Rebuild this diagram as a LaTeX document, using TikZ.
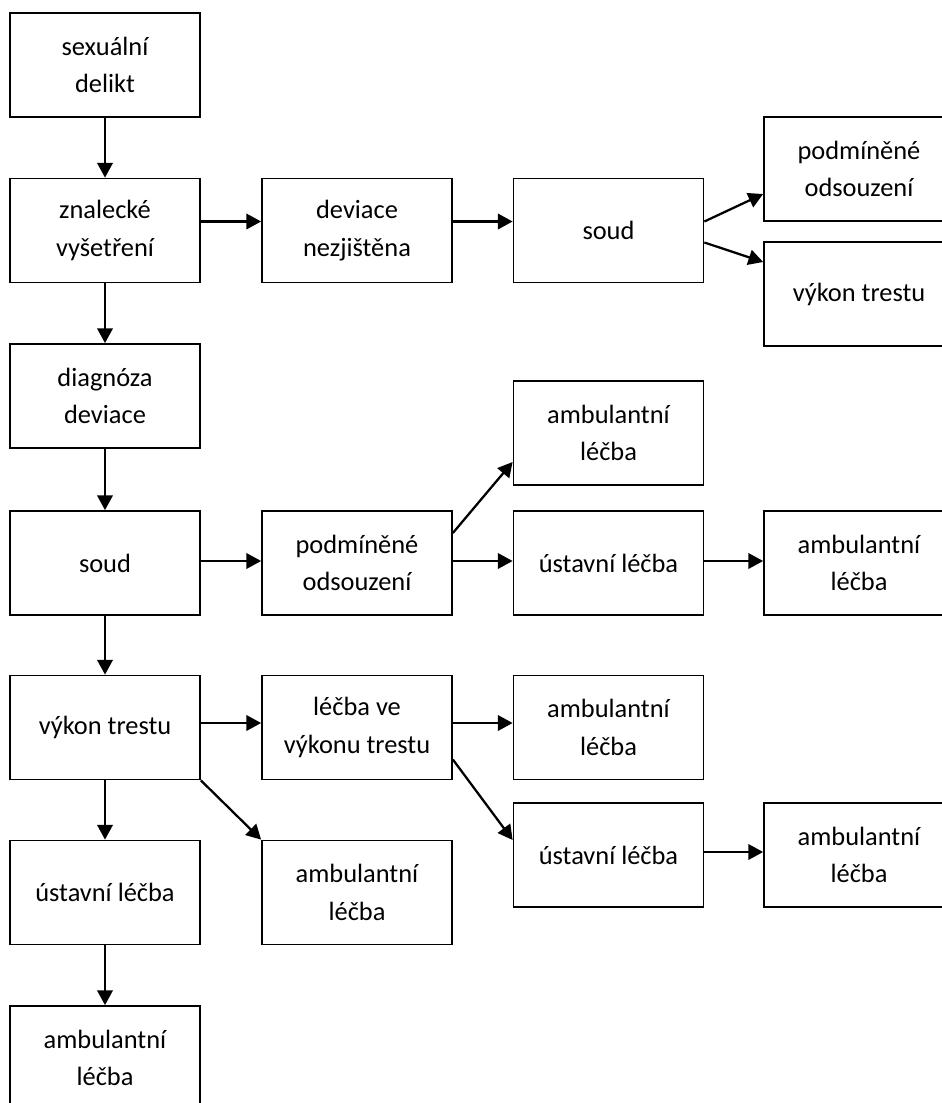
\documentclass[tikz,border=0pt]{standalone}
\usepackage{fontspec}
\setmainfont{Carlito}
\usetikzlibrary{arrows.meta,calc}

\begin{document}
\begin{tikzpicture}[x=0.75pt,y=0.75pt,yscale=-1,xscale=1,
  box/.style={draw, line width=1.3pt, minimum width=142.5pt, minimum height=78pt, inner sep=0pt, align=center, font=\fontsize{19.8}{28}\selectfont},
  arr/.style={line width=1.7pt, -{Triangle[length=11pt,width=11.5pt]}}]
%set diagram size to 942 x 1103
\useasboundingbox (0,0) rectangle (942,1103);
\clip (0,0) rectangle (942,1103);

%Shape: Rectangle column 1
\node [box] (delikt) at (105,65) {sexuální\\delikt};
\node [box] (znalec) at (105,230.5) {znalecké\\vyšetření};
\node [box] (diag) at (105,396) {diagnóza\\deviace};
\node [box] (soud2) at (105,563) {soud};
\node [box] (vykon2) at (105,727.5) {výkon trestu};
\node [box] (ustav3) at (105,892.5) {ústavní léčba};
\node [box] (amb6) at (105,1058) {ambulantní\\léčba};

%Shape: Rectangle column 2
\node [box] (devnez) at (357,230.5) {deviace\\nezjištěna};
\node [box] (podm2) at (357,563) {podmíněné\\odsouzení};
\node [box] (lecba) at (357,727.5) {léčba ve\\výkonu trestu};
\node [box] (amb5) at (357,892.5) {ambulantní\\léčba};

%Shape: Rectangle column 3
\node [box] (soud1) at (608.5,230.5) {soud};
\node [box] (amb1) at (608.5,433) {ambulantní\\léčba};
\node [box] (ustav1) at (608.5,563) {ústavní léčba};
\node [box] (amb3) at (608.5,727.5) {ambulantní\\léčba};
\node [box] (ustav2) at (608.5,855) {ústavní léčba};

%Shape: Rectangle column 4
\node [box] (podm1) at (859,169) {podmíněné\\odsouzení};
\node [box] (vykon1) at (859,294) {výkon trestu};
\node [box] (amb2) at (859,563) {ambulantní\\léčba};
\node [box] (amb4) at (859,855) {ambulantní\\léčba};

%Straight Lines down the left
\draw [arr] (delikt) -- (znalec);
\draw [arr] (znalec) -- (diag);
\draw [arr] (diag) -- (soud2);
\draw [arr] (soud2) -- (vykon2);
\draw [arr] (vykon2) -- (ustav3);
\draw [arr] (ustav3) -- (amb6);

%Straight Lines row of znalecké vyšetření
\draw [arr] ($(znalec.east)+(0,-9)$) -- ($(devnez.west)+(0,-9)$);
\draw [arr] ($(devnez.east)+(0,-9)$) -- ($(soud1.west)+(0,-9)$);
\draw [arr] ($(soud1.east)+(0,-9)$) -- ($(podm1.west)+(0,25)$);
\draw [arr] ($(soud1.east)+(0,12)$) -- ($(vykon1.west)+(0,-32)$);

%Straight Lines row of soud
\draw [arr] ($(soud2.east)+(0,-2)$) -- ($(podm2.west)+(0,-2)$);
\draw [arr] ($(podm2.east)+(0,-30)$) -- ($(amb1.west)+(0,29)$);
\draw [arr] ($(podm2.east)+(0,-2)$) -- ($(ustav1.west)+(0,-2)$);
\draw [arr] ($(ustav1.east)+(0,-2)$) -- ($(amb2.west)+(0,-2)$);

%Straight Lines row of výkon trestu
\draw [arr] ($(vykon2.east)+(0,-4.5)$) -- ($(lecba.west)+(0,-4.5)$);
\draw [arr] ($(lecba.east)+(0,-4.5)$) -- ($(amb3.west)+(0,-4.5)$);
\draw [arr] ($(lecba.east)+(0,32)$) -- ($(ustav2.west)+(0,-15)$);
\draw [arr] ($(ustav2.east)+(0,-3)$) -- ($(amb4.west)+(0,-3)$);
\draw [arr] (vykon2.south east) -- (amb5.north west);

\end{tikzpicture}
\end{document}
